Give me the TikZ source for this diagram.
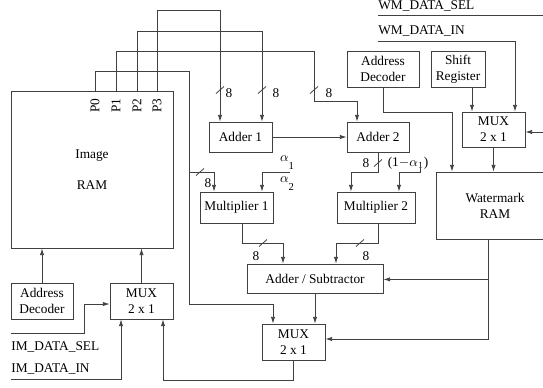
\documentclass[tikz,border=0pt]{standalone}
\usepackage{fontspec}
\setmainfont{Liberation Serif}
\usetikzlibrary{positioning}
\usetikzlibrary{calc}
\usetikzlibrary{arrows.meta}

\newcommand{\lowsub}[2]{$#1$\raisebox{-6pt}{\footnotesize #2}}

\begin{document}
\begin{tikzpicture}[
    x=0.75pt, y=-0.75pt,
    ->,
    >={Latex[length=5pt,width=3.2pt]},
    draw=black!75,
    line width=0.6pt
]
\tikzstyle{blk}=[draw=black!75, rectangle, inner sep=1pt, align=center]
\tikzstyle{sig}=[anchor=west, inner sep=0pt]

\useasboundingbox (0,0) rectangle (543,387);
\clip (0,0) rectangle (543,387);

% Image side
\node[blk, minimum width=121.5pt, minimum height=117.75pt] (ram) at (92,169.5) {Image\\[11pt]RAM};
\foreach \x/\n in {95/0,116/1,137/2,157/3} {
    \coordinate (p\n) at (\x,91);
    \node[rotate=90, anchor=east] (pl\n) at (\x,94) {P\n};
}
\node[blk, minimum width=46.5pt, minimum height=27pt] (adr1) at (42,301) {Address\\Decoder};
\node[blk, minimum width=47.25pt, minimum height=27pt] (mux1) at (141.5,301) {MUX\\2 x 1};

% Arithmetic
\node[blk, minimum width=47.25pt, minimum height=22.5pt] (adder1) at (240.5,137) {Adder 1};
\node[blk, minimum width=46.5pt, minimum height=22.5pt] (adder2) at (378,137) {Adder 2};
\node[blk, minimum width=54.75pt, minimum height=23.25pt] (mult1) at (236.5,207.5) {Multiplier 1};
\node[blk, minimum width=58.5pt, minimum height=23.25pt] (mult2) at (376,207.5) {Multiplier 2};
\node[blk, minimum width=102pt, minimum height=21.75pt] (addsub) at (315,278.5) {Adder / Subtractor};
\node[blk, minimum width=47.25pt, minimum height=27pt] (mux3) at (293.5,342) {MUX\\2 x 1};

% Watermark side
\node[blk, minimum width=54pt, minimum height=27pt] (adr2) at (383,69) {Address\\Decoder};
\node[blk, minimum width=40.5pt, minimum height=27pt] (shift) at (458,69) {Shift\\Register};
\node[blk, minimum width=47.25pt, minimum height=26.25pt] (mux2) at (493.5,129.5) {MUX\\2 x 1};
\node[blk, minimum width=88.5pt, minimum height=50.25pt] (wram) at (495,205.5) {Watermark\\RAM};

% Signal names
\node[sig] (imseltxt) at (11,347) {IM\_DATA\_SEL};
\node[sig] (imintxt) at (11,369) {IM\_DATA\_IN};
\node[sig] (wmseltxt) at (378,6) {WM\_DATA\_SEL};
\node[sig] (wmintxt) at (378,31) {WM\_DATA\_IN};
\node (al1) at (287,163) {\lowsub{\alpha}{1}};
\node (al2) at (287,184) {\lowsub{\alpha}{2}};
\node (oma) at (408,163) {(1$-\alpha_1$)};

\coordinate (imsel) at (11,333);
\coordinate (imin) at (11,379);
\coordinate (wmsel) at (378,15);
\coordinate (wmin) at (378,41);
\coordinate (m1a) at (290,172);
\coordinate (m2a) at (420,166);
\coordinate (j0) at ($(p0)+(94,81)$);
\coordinate (j1) at ($(wram.south)+(-7,40)$);

% Pixel buses
\draw (p3) -- ++(0,-81) -| ($(adder1.north)+(-20.5,0)$);
\draw (p2) -- ++(0,-60) -| ($(adder1.north)+(21.5,0)$);
\draw (p1) -- ++(0,-40) -- ++(198,0) -- ++(0,50) -| ($(adder2.north)+(-21,0)$);
\draw (p0) -- ++(0,-20) -- ++(94,0) -- ++(0,233) -| ($(mux3.north)+(-20.5,0)$);
\draw (j0) -| ($(mult1.north)+(-22.5,0)$);

% Datapath
\draw (adder1) -- (adder2);
\draw (adder2.south) -- ++(0,20) -| ($(mult2.north)+(-25,0)$);
\draw (m2a) -- ++(0,6) -| ($(mult2.north)+(23,0)$);
\draw (m1a) -| ($(mult1.north)+(25.5,0)$);
\draw ($(mult1.south)+(5.5,0)$) -- ++(0,20) -| ($(addsub.north)+(-32,0)$);
\draw ($(mult2.south)+(2,0)$) -- ++(0,20) -| ($(addsub.north)+(21,0)$);
\draw (addsub.south) -- ($(mux3.north)+(21.5,0)$);
\draw ($(wram.south)+(-7,0)$) |- ($(mux3.east)+(0,-3)$);
\draw (j1) -- (j1 -| addsub.east);
\draw (mux3.south) -- ++(0,20) -| ($(mux1.south)+(21.5,0)$);

% Image RAM inputs
\draw (mux1) -- (mux1 |- ram.south);
\draw (adr1) -- (adr1 |- ram.south);
\draw (imsel) -- ++(73,0) |- ($(mux1.west)+(0,3)$);
\draw (imin) -| ($(mux1.south)+(-20.5,0)$);

% Watermark RAM inputs
\draw (adr2.south) -- ++(0,25) -| ($(wram.north)+(-43,0)$);
\draw ($(shift.south)+(14,0)$) -- ($(mux2.north)+(-21.5,0)$);
\draw (mux2) -- (mux2 |- wram.north);
\draw (wmin) -| ($(mux2.north)+(21.5,0)$);
\draw (wmsel) -- ++(175,0) |- ($(mux2.east)+(0,2.5)$);

% Bus widths
\foreach \sx/\sy/\lx/\ly [count=\i] in {220/90/229/93, 262/90/276/93, 314/90/329/93,
    200/172/208/183, 378/163/366/163, 263/243/256/256, 360/243/366/256} {
    \draw[-] (\sx,\sy) ++(-4,3.5) -- ++(8,-7);
    \node (w\i) at (\lx,\ly) {8};
}

\end{tikzpicture}
\end{document}
